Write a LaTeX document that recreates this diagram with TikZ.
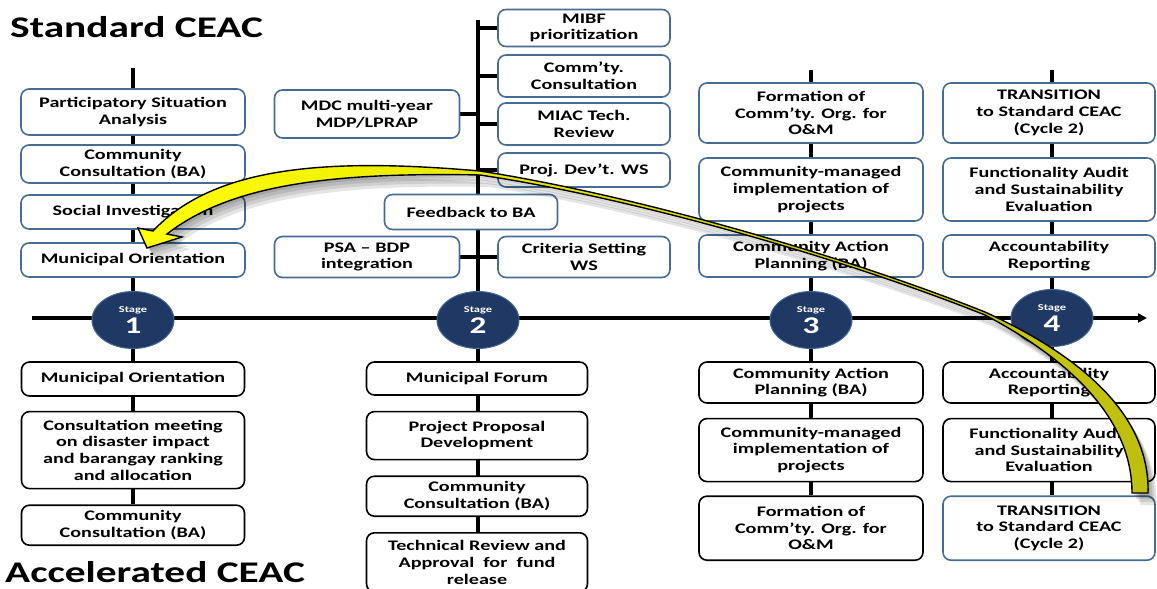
\documentclass[tikz,border=0pt]{standalone}
\usepackage{fontspec}
\setmainfont{Carlito}[FakeStretch=1.38]
\usetikzlibrary{arrows.meta,positioning,shapes.geometric,backgrounds}

\definecolor{stageblue}{RGB}{31,56,100}
\definecolor{stagering}{RGB}{70,105,150}
\definecolor{boxblue}{RGB}{70,108,148}
\definecolor{ribbonlight}{RGB}{255,255,0}
\definecolor{ribbondark}{RGB}{190,190,15}

\tikzset{
  stdbox/.style={draw=boxblue,line width=1.6pt,rounded corners=8pt,fill=white,
    align=center,inner sep=2pt,font=\bfseries\fontsize{14.6}{16.7}\selectfont},
  accbox/.style={stdbox,draw=black},
  colA/.style={minimum width=224pt},
  colB/.style={minimum width=185pt},
  colC/.style={minimum width=172pt},
  colD/.style={minimum width=223pt},
  colE/.style={minimum width=212pt},
  stage/.style={ellipse,fill=stageblue,draw=stagering,line width=1pt,
    minimum width=82pt,minimum height=57pt,inner sep=0pt,text=white,
    align=center,font=\bfseries},
  link/.style={line width=3.6pt,black},
  title/.style={anchor=base west,inner sep=0pt,font=\bfseries\fontsize{30}{32}\selectfont},
  ribbon outline/.style={insert path={
    (1148,493) .. controls (1150,420) and (1090,360) .. (985,312)
    .. controls (850,258) and (640,196) .. (480,171)
    .. controls (330,158) and (215,165) .. (153,231)
    -- (138,228) -- (147,248) -- (182,237) -- (167,234)
    .. controls (230,185) and (330,172) .. (480,175)
    .. controls (640,199) and (850,261) .. (985,315)
    .. controls (1080,365) and (1132,425) .. (1132,493) -- cycle}}
}

\begin{document}
\begin{tikzpicture}[x=1pt,y=-1pt]
  \useasboundingbox (0,0) rectangle (1157,589);

  \node[title] (stdtitle) at (10,37) {Standard CEAC};
  \node[title] (acctitle) at (5,582) {Accelerated CEAC};

  % timeline
  \coordinate (axL) at (32,318);
  \coordinate (axR) at (1147,318);
  \coordinate (t1) at (133,68);
  \coordinate (t2) at (478,20);
  \coordinate (t3) at (811,70);
  \coordinate (t4) at (1052,70);

  \node[stage] (s1) at (133,320) {\fontsize{9}{9}\selectfont Stage\\[2pt]\fontsize{24}{22}\selectfont 1};
  \node[stage] (s2) at (478,320) {\fontsize{9}{9}\selectfont Stage\\[2pt]\fontsize{24}{22}\selectfont 2};
  \node[stage] (s3) at (811,320) {\fontsize{9}{9}\selectfont Stage\\[2pt]\fontsize{24}{22}\selectfont 3};
  \node[stage] (s4) at (1052,318) {\fontsize{9}{9}\selectfont Stage\\[2pt]\fontsize{24}{22}\selectfont 4};

  % standard CEAC, stage 1
  \node[stdbox,colA,minimum height=46pt] (psa) at (133,112) {Participatory Situation\\Analysis};
  \node[stdbox,colA,minimum height=38pt] (cc1) at (133,164) {Community\\Consultation (BA)};
  \node[stdbox,colA,minimum height=34pt] (si) at (133,212) {Social Investigation};
  \node[stdbox,colA,minimum height=34pt] (mo1) at (133,260) {Municipal Orientation};

  % standard CEAC, stage 2
  \node[stdbox,colB,minimum height=48pt] (mdc) at (367,114) {MDC multi-year\\MDP/LPRAP};
  \node[stdbox,colB,minimum height=41pt] (psabdp) at (367,257) {PSA – BDP\\integration};
  \node[stdbox,colC,minimum height=37pt] (mibf) at (584,28) {MIBF\\prioritization};
  \node[stdbox,colC,minimum height=42pt] (commty) at (584,76) {Comm’ty.\\Consultation};
  \node[stdbox,colC,minimum height=42pt] (miac) at (584,124) {MIAC Tech.\\Review};
  \node[stdbox,colC,minimum height=34pt] (projdev) at (584,170) {Proj. Dev’t. WS};
  \node[stdbox,colC,minimum height=41pt] (crit) at (584,257) {Criteria Setting\\WS};
  \node[stdbox,minimum width=173pt,minimum height=35pt] (fb) at (471,212) {Feedback to BA};

  % standard CEAC, stages 3 and 4
  \node[stdbox,colA,minimum height=60pt] (form3) at (811,113) {Formation of\\Comm’ty. Org. for\\O\&M};
  \node[stdbox,colA,minimum height=63pt] (cmi3) at (811,189.5) {Community-managed\\implementation of\\projects};
  \node[stdbox,colA,minimum height=42pt] (cap3) at (811,256) {Community Action\\Planning (BA)};
  \node[stdbox,colE,minimum height=60pt] (trans4) at (1049,113) {TRANSITION\\to Standard CEAC\\(Cycle 2)};
  \node[stdbox,colE,minimum height=63pt] (func4) at (1049,189.5) {Functionality Audit\\and Sustainability\\Evaluation};
  \node[stdbox,colE,minimum height=42pt] (acc4) at (1049,256) {Accountability\\Reporting};

  % accelerated CEAC
  \node[accbox,colD,minimum height=34pt] (bmo) at (133,379) {Municipal Orientation};
  \node[accbox,colD,minimum height=77pt,below=14pt of bmo] (bcons) {Consultation meeting\\on disaster impact\\and barangay ranking\\and allocation};
  \node[accbox,colD,minimum height=40pt,below=15pt of bcons] (bcc) {Community\\Consultation (BA)};

  \node[accbox,minimum width=221pt,minimum height=33pt] (bmf) at (477,378.5) {Municipal Forum};
  \node[accbox,minimum width=221pt,minimum height=48pt,below=15pt of bmf] (bppd) {Project Proposal\\Development};
  \node[accbox,minimum width=221pt,minimum height=40pt,below=15pt of bppd] (bcc2) {Community\\Consultation (BA)};
  \node[accbox,minimum width=221pt,minimum height=59pt,below=15pt of bcc2] (btech) {Technical Review and\\Approval~~for~~fund\\release};

  \node[accbox,colA,minimum height=41pt] (bcap) at (811,382.5) {Community Action\\Planning (BA)};
  \node[accbox,colA,minimum height=63pt,below=14pt of bcap] (bcmi) {Community-managed\\implementation of\\projects};
  \node[accbox,colA,minimum height=64pt,below=13pt of bcmi] (bform) {Formation of\\Comm’ty. Org. for\\O\&M};

  \node[accbox,colE,minimum height=41pt] (bacc) at (1049,382.5) {Accountability\\Reporting};
  \node[accbox,colE,minimum height=63pt,below=14pt of bacc] (bfunc) {Functionality Audit\\and Sustainability\\Evaluation};
  \node[stdbox,colE,minimum height=64pt,below=13pt of bfunc] (btrans) {TRANSITION\\to Standard CEAC\\(Cycle 2)};

  \begin{scope}[on background layer]
    \draw[link,-{Triangle[length=9pt,width=9pt]}] (axL) -- (axR);
    \draw[link] (t1) -- (s1);
    \draw[link] (s1) -- (s1 |- bcc.north);
    \draw[link] (t2) -- (s2);
    \draw[link] (s2) -- (s2 |- btech.north);
    \draw[link] (t3) -- (s3);
    \draw[link] (s3) -- (s3 |- bform.north);
    \draw[link] (t4) -- (s4);
    \draw[link] (s4) -- (s4 |- btrans.north);
    \foreach \n in {mibf,commty,miac,projdev,crit}
      \draw[link] (\n.west) -- (\n.west -| t2);
    \foreach \n in {mdc,psabdp}
      \draw[link] (\n.east) -- (\n.east -| t2);
  \end{scope}

  % cycle arrow back to stage 1
  \foreach \dd in {3,6,9,12}
    \fill[black,opacity=0.1,shift={(0.7*\dd,\dd)},ribbon outline];
  \path[draw=black,line width=1.4pt,left color=ribbonlight,right color=ribbondark,ribbon outline];
\end{tikzpicture}
\end{document}
